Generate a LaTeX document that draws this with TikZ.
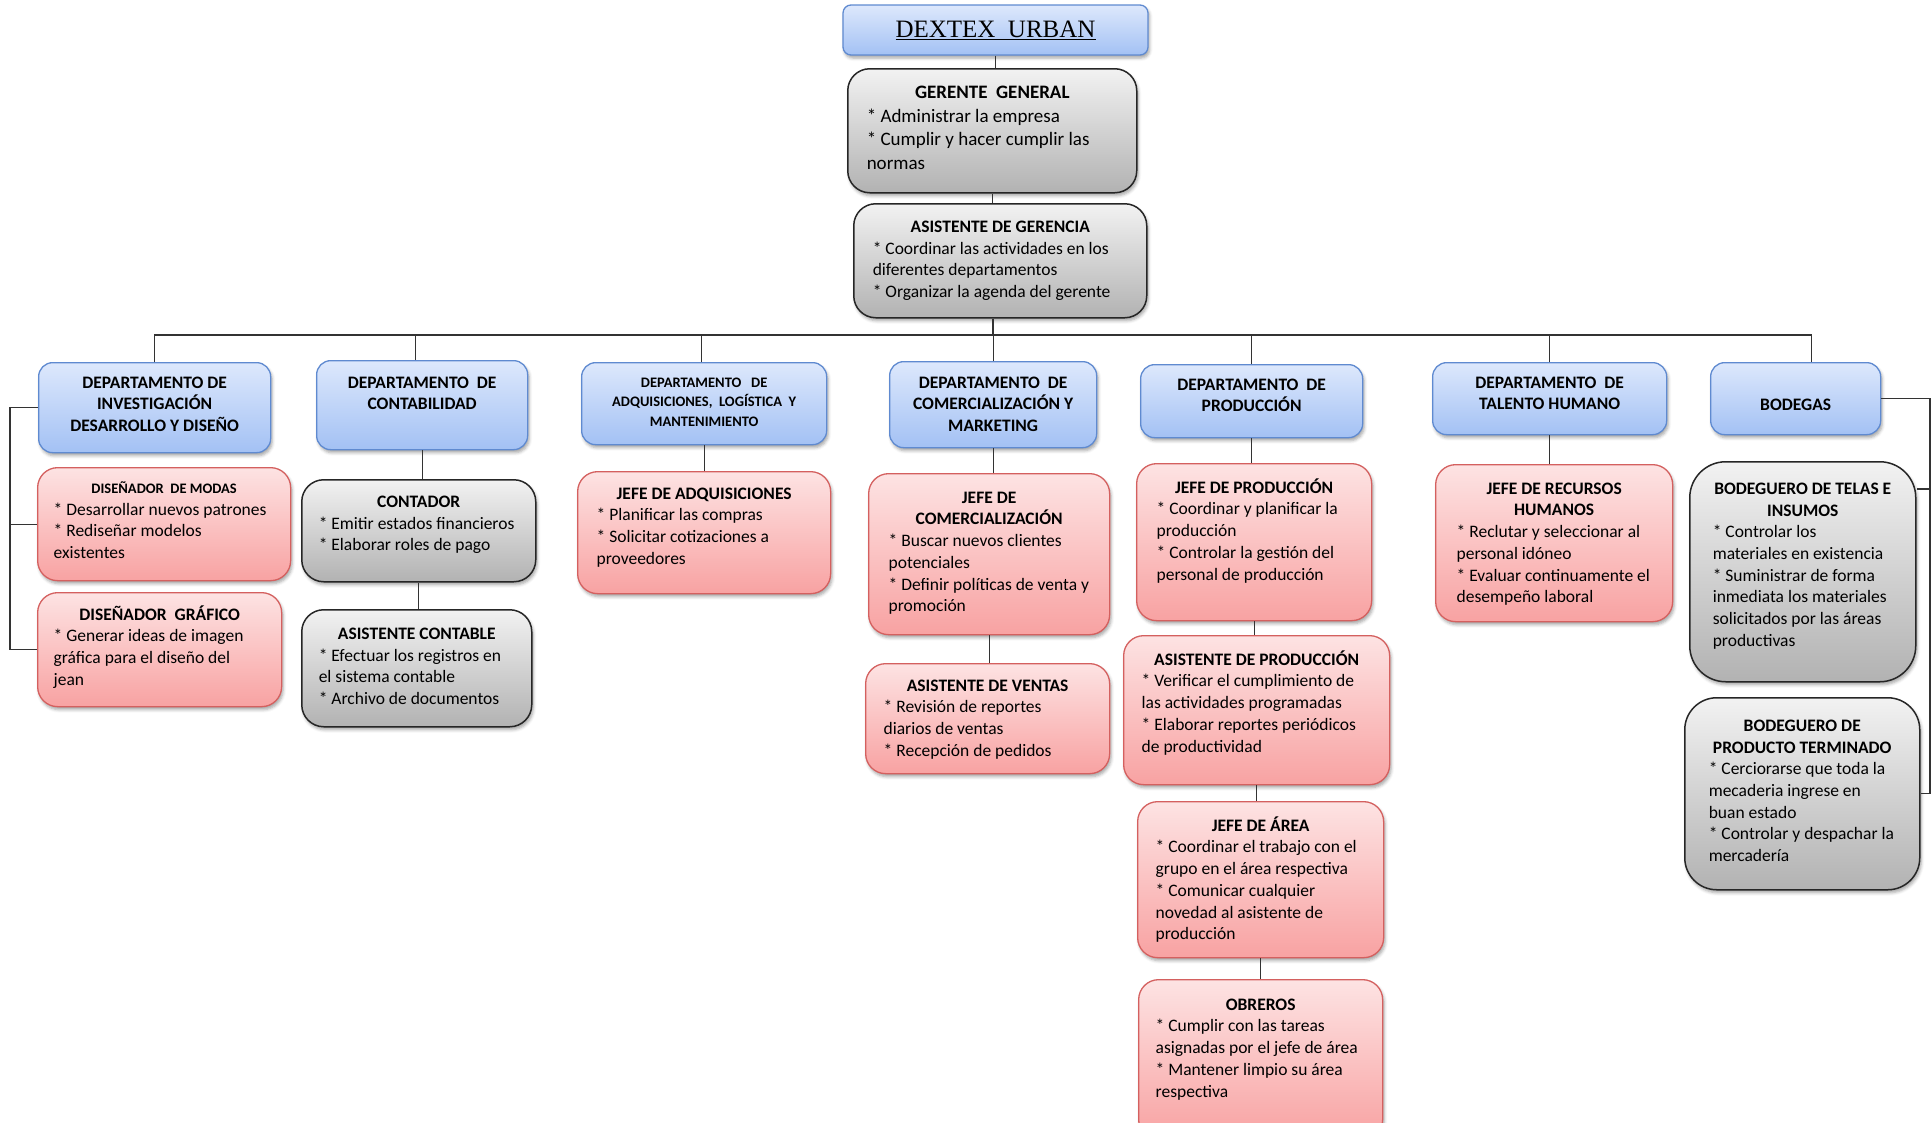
\documentclass[tikz,border=0pt]{standalone}
\usepackage{fontspec}
\setmainfont{Carlito}
\newfontfamily\titlefont{Liberation Serif}
\usetikzlibrary{shadows.blur}

\definecolor{bluetop}{HTML}{DDE8FC}
\definecolor{bluebot}{HTML}{A3C1F4}
\definecolor{blueline}{HTML}{5F8AD0}
\definecolor{redtop}{HTML}{FDE3E3}
\definecolor{redbot}{HTML}{F8A2A2}
\definecolor{redline}{HTML}{D4605F}
\definecolor{graytop}{HTML}{F2F2F2}
\definecolor{graybot}{HTML}{B2B2B2}
\definecolor{grayline}{HTML}{262626}
\definecolor{linkcol}{HTML}{333333}

% line break that never swallows a following asterisk
\newcommand\lb{\\\relax}
% centred bold heading line inside a text box
\newcommand\ttl[1]{\makebox[\dimexpr\linewidth-2\leftskip\relax]{\strut\bfseries #1}}
\newcommand\sttl[1]{\makebox[\dimexpr\linewidth-2\leftskip\relax]{\strut\bfseries\fontsize{14.5}{21.7}\selectfont #1}}
% style, name, x, y, width, height, left pad, first baseline, text
\newcommand\orgnode[9]{%
  \node[#1, anchor=north west, inner sep=0pt] (#2) at (#3,#4)
    {\parbox[c][#6pt][t]{#5pt}{\vspace*{\dimexpr#8pt-0.7\baselineskip\relax}\raggedright\leftskip=#7pt\relax #9}};}

\tikzset{
  softshadow/.style={blur shadow={shadow xshift=1.5pt, shadow yshift=-3pt, shadow blur radius=3pt, shadow opacity=35}},
  bluebox/.style={draw=blueline, line width=1.3pt, top color=bluetop, bottom color=bluebot,
    rounded corners=14pt, softshadow, font=\bfseries\fontsize{17.5}{21.7}\selectfont},
  redbox/.style={draw=redline, line width=1.3pt, top color=redtop, bottom color=redbot,
    rounded corners=20pt, softshadow, font=\fontsize{17.5}{21.7}\selectfont},
  graybox/.style={draw=grayline, line width=1.5pt, top color=graytop, bottom color=graybot,
    rounded corners=22pt, softshadow, font=\fontsize{17.5}{21.7}\selectfont},
  link/.style={draw=linkcol, line width=1.3pt},
}

\begin{document}
\begin{tikzpicture}[x=1pt, y=-1pt]
\useasboundingbox (0,0) rectangle (1932,1122);

% company name
\node[draw=blueline, line width=1.3pt, top color=bluetop, bottom color=bluebot, rounded corners=8pt,
  softshadow, minimum width=305pt, minimum height=50pt, inner sep=0pt] (title) at (995.5,30)
  {\titlefont\fontsize{25}{30}\selectfont\underline{DEXTEX\ \ URBAN}};

% management
\orgnode{graybox,font=\fontsize{19}{23.5}\selectfont}{gerente}{847}{68}{289}{124}{19}{30.1}
  {\ttl{GERENTE\ \ GENERAL}\lb * Administrar\ la empresa\lb * Cumplir y hacer cumplir las\lb normas}
\orgnode{graybox}{asistger}{853}{203}{293}{114}{19}{28.6}
  {\ttl{ASISTENTE DE GERENCIA}\lb * Coordinar las actividades en los\lb diferentes departamentos\lb * Organizar la agenda del gerente}

% departments
\orgnode{bluebox}{inv}{38}{362}{232}{90}{0}{25.6}
  {\centering\strut DEPARTAMENTO DE\lb INVESTIGACIÓN\lb DESARROLLO Y DISEÑO}
\orgnode{bluebox}{cont}{316}{360}{211}{89}{0}{27.6}
  {\centering\strut DEPARTAMENTO\ \ DE\lb CONTABILIDAD}
\orgnode{bluebox,font=\bfseries\fontsize{14.5}{19.5}\selectfont}{adq}{581}{362}{245}{82}{0}{24.6}
  {\centering\strut DEPARTAMENTO\ \ \ DE\lb ADQUISICIONES,\ \ LOGÍSTICA\ \ Y\lb MANTENIMIENTO}
\orgnode{bluebox}{com}{889}{361}{207}{86}{0}{26.6}
  {\centering\strut DEPARTAMENTO\ \ DE\lb COMERCIALIZACIÓN Y\lb MARKETING}
\orgnode{bluebox}{prod}{1140}{364}{222}{73}{0}{25.6}
  {\centering\strut DEPARTAMENTO\ \ DE\lb PRODUCCIÓN}
\orgnode{bluebox}{th}{1432}{362}{234}{72}{0}{25.6}
  {\centering\strut DEPARTAMENTO\ \ DE\lb TALENTO HUMANO}
\orgnode{bluebox}{bod}{1710}{362}{170}{72}{0}{47.6}
  {\centering\strut BODEGAS}

% research and design
\orgnode{redbox}{dmodas}{37}{467}{253}{113}{16}{25.7}
  {\sttl{DISEÑADOR\ \ DE MODAS}\lb * Desarrollar nuevos patrones\lb * Rediseñar modelos\lb existentes}
\orgnode{redbox}{dgrafico}{37}{592}{244}{114}{16}{27.6}
  {\ttl{DISEÑADOR\ \ GRÁFICO}\lb * Generar ideas de imagen\lb gráfica para el diseño del\lb jean}

% accounting
\orgnode{graybox}{contador}{301}{479}{234}{102}{17}{27.6}
  {\ttl{CONTADOR}\lb * Emitir estados financieros\lb * Elaborar roles de pago}
\orgnode{graybox}{asistcont}{301}{609}{230}{117}{17}{29.6}
  {\ttl{ASISTENTE CONTABLE}\lb * Efectuar los registros en\lb el sistema contable\lb * Archivo de documentos}

% purchasing
\orgnode{redbox}{jefeadq}{577}{471}{253}{122}{19}{27.6}
  {\ttl{JEFE DE ADQUISICIONES}\lb * Planificar las compras\lb * Solicitar cotizaciones a\lb proveedores}

% sales
\orgnode{redbox}{jefecom}{868}{473}{241}{161}{20}{29.6}
  {\ttl{JEFE DE}\lb\ttl{COMERCIALIZACIÓN}\lb * Buscar nuevos clientes\lb potenciales\lb * Definir políticas de venta y\lb promoción}
\orgnode{redbox}{asistventas}{865}{663}{244}{110}{18}{27.6}
  {\ttl{ASISTENTE DE VENTAS}\lb * Revisión de reportes\lb diarios de ventas\lb * Recepción de pedidos}

% production
\orgnode{redbox}{jefeprod}{1136}{463}{235}{157}{20}{29.6}
  {\ttl{JEFE DE PRODUCCIÓN}\lb * Coordinar y planificar la\lb producción\lb * Controlar la gestión del\lb personal de producción}
\orgnode{redbox}{asistprod}{1123}{635}{266}{149}{18}{29.6}
  {\ttl{ASISTENTE DE PRODUCCIÓN}\lb * Verificar el cumplimiento de\lb las actividades programadas\lb * Elaborar reportes periódicos\lb de productividad}
\orgnode{redbox}{jefearea}{1137}{801}{246}{156}{18}{29.6}
  {\ttl{JEFE DE ÁREA}\lb * Coordinar el trabajo con el\lb grupo en el área respectiva\lb * Comunicar cualquier\lb novedad al asistente de\lb producción}
\orgnode{redbox}{obreros}{1138}{979}{244}{160}{17}{30.6}
  {\ttl{OBREROS}\lb * Cumplir con las tareas\lb asignadas por el jefe de área\lb * Mantener limpio su área\lb respectiva}

% human resources
\orgnode{redbox}{rrhh}{1435}{464}{237}{157}{21}{29.6}
  {\ttl{JEFE DE RECURSOS}\lb\ttl{HUMANOS}\lb * Reclutar y seleccionar al\lb personal idóneo\lb * Evaluar continuamente el\lb desempeño laboral}

% warehouses
\orgnode{graybox,rounded corners=36pt}{telas}{1689}{461}{226}{220}{23}{32.6}
  {\ttl{BODEGUERO DE TELAS E}\lb\ttl{INSUMOS}\lb * Controlar los\lb materiales en existencia\lb * Suministrar de forma\lb inmediata los materiales\lb solicitados por las áreas\lb productivas}
\orgnode{graybox,rounded corners=32pt}{producto}{1684}{697}{235}{192}{24}{33.6}
  {\ttl{BODEGUERO DE}\lb\ttl{PRODUCTO TERMINADO}\lb * Cerciorarse que toda la\lb mecaderia ingrese en\lb buan estado\lb * Controlar y despachar la\lb mercadería}

% connectors
\coordinate (bus) at (993,335);
\coordinate (lrail) at (10,0);
\coordinate (rrail) at (1930,0);
\coordinate (ttick) at (1930,489);

\draw[link] (title.south) -- (title.south |- gerente.north);
\draw[link] (gerente.south) -- (gerente.south |- asistger.north);
\draw[link] (bus |- asistger.south) -- (bus);
\draw[link] (inv.north) |- (bus) -| ([xshift=16pt]bod.north);
\draw[link] ([xshift=-7pt]cont.north) -- ([xshift=-7pt]cont.north |- bus);
\draw[link] ([xshift=-3pt]adq.north) -- ([xshift=-3pt]adq.north |- bus);
\foreach \d in {com,prod,th}
  \draw[link] (\d.north) -- (\d.north |- bus);

\draw[link] (cont.south) -- (cont.south |- contador.north);
\draw[link] (contador.south) -- (contador.south |- asistcont.north);
\draw[link] (adq.south) -- (adq.south |- jefeadq.north);
\draw[link] (com.south) -- (com.south |- jefecom.north);
\draw[link] (jefecom.south) -- (jefecom.south |- asistventas.north);
\draw[link] (prod.south) -- (prod.south |- jefeprod.north);
\draw[link] (jefeprod.south) -- (jefeprod.south |- asistprod.north);
\draw[link] (asistprod.south) -- (asistprod.south |- jefearea.north);
\draw[link] (jefearea.south) -- (jefearea.south |- obreros.north);
\draw[link] (th.south) -- (th.south |- rrhh.north);

\draw[link] (inv.west) -- (inv.west -| lrail) -- (dgrafico.west -| lrail) -- (dgrafico.west);
\draw[link] (dmodas.west -| lrail) -- (dmodas.west);

\draw[link] (bod.east) -- (bod.east -| rrail) -- (producto.east -| rrail) -- (producto.east);
\draw[link] (ttick) -- (ttick -| telas.east);
\end{tikzpicture}
\end{document}
